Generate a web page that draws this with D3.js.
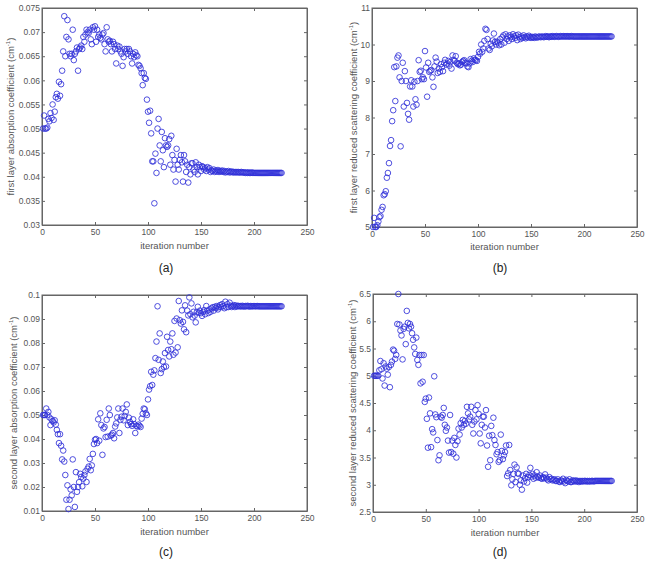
<!DOCTYPE html>
<html>
<head>
<meta charset="utf-8">
<script src="https://cdn.jsdelivr.net/npm/d3@7"></script>
<style>
  body { margin: 0; background: #fff; }
  svg { display: block; font-family: Arial, "Liberation Sans", sans-serif; }
</style>
</head>
<body>
<svg id="chart" width="647" height="562"></svg>
<script>
// iteration numbers shared by the four panels
const iterations = d3.range(1, 227);

const firstAbs = [
  0.0500, 0.0527, 0.0500, 0.0500, 0.0502, 0.0520, 0.0515, 0.0532, 0.0522, 0.0550,
  0.0518, 0.0535, 0.0565, 0.0572, 0.0562, 0.0597, 0.0568, 0.0592, 0.0620, 0.0660,
  0.0733, 0.0650, 0.0690, 0.0725, 0.0685, 0.0655, 0.0650, 0.0655, 0.0705, 0.0642,
  0.0655, 0.0660, 0.0668, 0.0620, 0.0665, 0.0668, 0.0672, 0.0665, 0.0690, 0.0680,
  0.0695, 0.0705, 0.0700, 0.0698, 0.0705, 0.0685, 0.0675, 0.0710, 0.0705, 0.0712,
  0.0680, 0.0705, 0.0690, 0.0695, 0.0688, 0.0685, 0.0695, 0.0698, 0.0675, 0.0660,
  0.0710, 0.0685, 0.0680, 0.0682, 0.0675, 0.0660, 0.0680, 0.0675, 0.0665, 0.0635,
  0.0672, 0.0665, 0.0670, 0.0660, 0.0655, 0.0630, 0.0648, 0.0665, 0.0660, 0.0665,
  0.0655, 0.0665, 0.0660, 0.0650, 0.0635, 0.0655, 0.0648, 0.0658, 0.0652, 0.0650,
  0.0632, 0.0630, 0.0625, 0.0615, 0.0590, 0.0615, 0.0605, 0.0603, 0.0560, 0.0535,
  0.0512, 0.0537, 0.0490, 0.0432, 0.0432, 0.0345, 0.0448, 0.0408, 0.0500, 0.0520,
  0.0465, 0.0432, 0.0493, 0.0455, 0.0420, 0.0480, 0.0465, 0.0462, 0.0465, 0.0478,
  0.0425, 0.0485, 0.0445, 0.0415, 0.0435, 0.0390, 0.0458, 0.0425, 0.0415, 0.0435,
  0.0445, 0.0430, 0.0390, 0.0445, 0.0432, 0.0410, 0.0425, 0.0388, 0.0420, 0.0405,
  0.0428, 0.0428, 0.0415, 0.0410, 0.0430, 0.0420, 0.0405, 0.0425, 0.0420, 0.0412,
  0.0422, 0.0420, 0.0415, 0.0418, 0.0412, 0.0420, 0.0415, 0.0418, 0.0410, 0.0413,
  0.0412, 0.0415, 0.0410, 0.0413, 0.0411, 0.0414, 0.0410, 0.0412, 0.0411, 0.0413,
  0.0410, 0.0412, 0.0409, 0.0411, 0.0410, 0.0412, 0.0409, 0.0410, 0.0411, 0.0409,
  0.0410, 0.0409, 0.0410, 0.0409, 0.0410, 0.0409, 0.0409, 0.0410, 0.0409, 0.0409,
  0.0409, 0.0408, 0.0409, 0.0408, 0.0409, 0.0408, 0.0408, 0.0409, 0.0408, 0.0408,
  0.0408, 0.0408, 0.0408, 0.0408, 0.0408, 0.0408, 0.0408, 0.0408, 0.0408, 0.0408,
  0.0408, 0.0408, 0.0408, 0.0408, 0.0408, 0.0408, 0.0408, 0.0408, 0.0408, 0.0408,
  0.0408, 0.0408, 0.0408, 0.0408, 0.0408, 0.0408
];

const firstScat = [
  5.00, 5.25, 5.00, 5.00, 5.05, 5.15, 5.27, 5.30, 5.47, 5.55,
  5.87, 5.90, 5.98, 6.35, 6.48, 6.75, 7.22, 7.38, 7.90, 8.20,
  9.38, 8.45, 9.40, 9.64, 9.70, 9.10, 7.21, 9.00, 9.50, 8.30,
  9.27, 9.00, 8.40, 8.10, 7.94, 8.85, 9.02, 8.85, 8.30, 8.98,
  8.50, 8.35, 9.00, 9.57, 9.25, 9.28, 9.05, 9.10, 9.05, 9.82,
  9.37, 8.57, 9.50, 9.25, 9.28, 9.30, 9.10, 8.84, 9.40, 9.64,
  9.53, 9.22, 9.34, 9.25, 9.46, 9.38, 9.27, 9.50, 9.58, 9.45,
  9.48, 9.55, 9.42, 9.52, 9.34, 9.70, 9.58, 9.55, 9.68, 9.50,
  9.46, 9.48, 9.43, 9.45, 9.52, 9.55, 9.57, 9.50, 9.48, 9.40,
  9.38, 9.48, 9.60, 9.55, 9.52, 9.62, 9.58, 9.57, 9.55, 9.66,
  9.80, 9.75, 10.00, 9.80, 9.89, 10.10, 10.43, 10.40, 10.15, 9.89,
  9.85, 10.02, 9.95, 10.11, 10.30, 10.07, 10.00, 10.08, 10.05, 9.98,
  10.15, 10.00, 10.20, 10.25, 10.05, 10.28, 10.15, 10.22, 10.10, 10.25,
  10.20, 10.15, 10.28, 10.22, 10.18, 10.25, 10.12, 10.27, 10.20, 10.15,
  10.22, 10.18, 10.25, 10.20, 10.17, 10.22, 10.19, 10.24, 10.20, 10.18,
  10.21, 10.20, 10.18, 10.22, 10.20, 10.19, 10.21, 10.22, 10.20, 10.21,
  10.22, 10.20, 10.21, 10.23, 10.21, 10.22, 10.20, 10.22, 10.21, 10.23,
  10.22, 10.21, 10.22, 10.23, 10.22, 10.21, 10.22, 10.23, 10.22, 10.22,
  10.23, 10.22, 10.22, 10.23, 10.22, 10.22, 10.22, 10.23, 10.22, 10.22,
  10.22, 10.22, 10.22, 10.22, 10.22, 10.22, 10.22, 10.22, 10.22, 10.22,
  10.22, 10.22, 10.22, 10.22, 10.22, 10.22, 10.22, 10.22, 10.22, 10.22,
  10.22, 10.22, 10.22, 10.22, 10.22, 10.22, 10.22, 10.22, 10.22, 10.22,
  10.22, 10.22, 10.22, 10.22, 10.22, 10.22
];

const secondAbs = [
  0.0500, 0.0500, 0.0500, 0.0527, 0.0500, 0.0513, 0.0490, 0.0458, 0.0482, 0.0475,
  0.0469, 0.0478, 0.0460, 0.0438, 0.0420, 0.0383, 0.0420, 0.0372, 0.0315, 0.0352,
  0.0306, 0.0250, 0.0147, 0.0207, 0.0108, 0.0147, 0.0190, 0.0165, 0.0315, 0.0200,
  0.0117, 0.0262, 0.0180, 0.0200, 0.0220, 0.0255, 0.0242, 0.0203, 0.0235, 0.0250,
  0.0265, 0.0221, 0.0276, 0.0285, 0.0317, 0.0270, 0.0290, 0.0338, 0.0379, 0.0397,
  0.0400, 0.0383, 0.0482, 0.0393, 0.0507, 0.0458, 0.0334, 0.0444, 0.0450, 0.0408,
  0.0480, 0.0410, 0.0527, 0.0500, 0.0414, 0.0418, 0.0425, 0.0403, 0.0452, 0.0465,
  0.0490, 0.0527, 0.0425, 0.0480, 0.0493, 0.0527, 0.0478, 0.0496, 0.0513, 0.0544,
  0.0458, 0.0489, 0.0471, 0.0462, 0.0455, 0.0482, 0.0462, 0.0425, 0.0455, 0.0452,
  0.0460, 0.0455, 0.0450, 0.0485, 0.0505, 0.0527, 0.0524, 0.0507, 0.0500, 0.0565,
  0.0606, 0.0620, 0.0680, 0.0625, 0.0668, 0.0686, 0.0737, 0.0806, 0.0953, 0.0730,
  0.0840, 0.0675, 0.0691, 0.0723, 0.0700, 0.0758, 0.0702, 0.0826, 0.0771, 0.0744,
  0.0806, 0.0774, 0.0840, 0.0751, 0.0892, 0.0760, 0.0902, 0.0782, 0.0975, 0.0895,
  0.0881, 0.0936, 0.0888, 0.0857, 0.0957, 0.0845, 0.0935, 0.0915, 0.0990, 0.0920,
  0.0965, 0.0907, 0.0930, 0.0914, 0.0886, 0.0928, 0.0951, 0.0926, 0.0935, 0.0924,
  0.0913, 0.0930, 0.0937, 0.0920, 0.0954, 0.0935, 0.0925, 0.0940, 0.0930, 0.0944,
  0.0949, 0.0935, 0.0951, 0.0945, 0.0954, 0.0940, 0.0949, 0.0958, 0.0950, 0.0962,
  0.0954, 0.0945, 0.0972, 0.0949, 0.0962, 0.0950, 0.0968, 0.0955, 0.0950, 0.0954,
  0.0958, 0.0950, 0.0956, 0.0952, 0.0955, 0.0953, 0.0954, 0.0952, 0.0955, 0.0953,
  0.0952, 0.0954, 0.0953, 0.0955, 0.0953, 0.0952, 0.0954, 0.0953, 0.0953, 0.0954,
  0.0953, 0.0953, 0.0954, 0.0953, 0.0953, 0.0953, 0.0953, 0.0953, 0.0953, 0.0953,
  0.0953, 0.0953, 0.0953, 0.0953, 0.0953, 0.0953, 0.0953, 0.0953, 0.0953, 0.0953,
  0.0953, 0.0953, 0.0953, 0.0953, 0.0953, 0.0953
];

const secondScat = [
  5.00, 5.00, 5.00, 5.00, 5.00, 5.10, 5.27, 5.12, 4.95, 5.23,
  4.82, 5.17, 5.13, 5.02, 5.16, 4.79, 5.20, 5.26, 5.48, 5.46,
  5.31, 5.38, 5.95, 6.50, 5.94, 5.83, 5.74, 5.30, 5.86, 5.90,
  5.58, 6.19, 5.97, 5.87, 5.95, 5.90, 5.78, 5.66, 5.52, 5.40,
  5.70, 5.29, 5.20, 5.38, 4.86, 5.38, 4.89, 5.38, 4.52, 4.58,
  4.21, 3.68, 4.60, 4.31, 3.69, 4.02, 3.96, 4.99, 4.29, 4.24,
  3.82, 3.45, 3.54, 4.25, 4.23, 4.28, 4.41, 4.10, 3.99, 4.05,
  3.81, 3.59, 4.28, 3.60, 3.81, 3.57, 3.86, 3.73, 3.50, 3.80,
  4.03, 3.92, 4.13, 4.05, 4.19, 4.10, 4.17, 4.12, 4.43, 4.31,
  4.20, 4.25, 4.43, 4.10, 3.94, 4.16, 4.37, 4.20, 4.46, 4.30,
  3.94, 3.76, 4.10, 4.25, 4.25, 4.05, 4.37, 3.72, 3.33, 3.90,
  3.45, 4.08, 3.91, 4.23, 3.82, 3.73, 3.56, 3.60, 3.42, 3.45,
  3.92, 3.62, 3.47, 3.54, 3.60, 3.72, 3.16, 3.21, 3.73, 3.27,
  2.99, 3.10, 3.20, 3.37, 3.05, 3.32, 3.21, 3.20, 3.00, 3.08,
  2.91, 3.17, 3.06, 3.12, 3.20, 3.04, 3.14, 3.18, 3.31, 3.15,
  3.20, 3.11, 3.17, 3.13, 3.23, 3.15, 3.13, 3.17, 3.12, 3.11,
  3.14, 3.12, 3.19, 3.13, 3.10, 3.08, 3.14, 3.10, 3.11, 3.08,
  3.09, 3.10, 3.07, 3.07, 3.10, 3.06, 3.05, 3.08, 3.07, 3.11,
  3.06, 3.03, 3.09, 3.07, 3.06, 3.10, 3.05, 3.05, 3.08, 3.07,
  3.06, 3.08, 3.06, 3.07, 3.05, 3.07, 3.06, 3.07, 3.06, 3.07,
  3.07, 3.06, 3.07, 3.06, 3.07, 3.06, 3.07, 3.07, 3.06, 3.07,
  3.07, 3.07, 3.07, 3.07, 3.07, 3.07, 3.07, 3.07, 3.07, 3.07,
  3.07, 3.07, 3.07, 3.07, 3.07, 3.07
];

const xTicks = [0, 50, 100, 150, 200, 250];
const xLabel = "iteration number";

const panels = [
  { values: firstAbs, domain: [0.03, 0.075], ticks: [0.03, 0.035, 0.04, 0.045, 0.05, 0.055, 0.06, 0.065, 0.07, 0.075],
    label: "first layer absorption coefficient (cm", caption: "(a)",
    box: { left: 42, right: 307, top: 8, bottom: 225 }, capX: 166, capY: 272, xLabY: 249, yLabX: 14 },
  { values: firstScat, domain: [5, 11], ticks: [5, 6, 7, 8, 9, 10, 11],
    label: "first layer reduced scattering coefficient (cm", caption: "(b)",
    box: { left: 372, right: 637, top: 8, bottom: 227 }, capX: 500, capY: 272, xLabY: 250, yLabX: 357 },
  { values: secondAbs, domain: [0.01, 0.1], ticks: [0.01, 0.02, 0.03, 0.04, 0.05, 0.06, 0.07, 0.08, 0.09, 0.1],
    label: "second layer absorption coefficient (cm", caption: "(c)",
    box: { left: 42, right: 307, top: 295, bottom: 511 }, capX: 166, capY: 556, xLabY: 535, yLabX: 17 },
  { values: secondScat, domain: [2.5, 6.5], ticks: [2.5, 3, 3.5, 4, 4.5, 5, 5.5, 6, 6.5],
    label: "second layer reduced scattering coefficient (cm", caption: "(d)",
    box: { left: 373, right: 637, top: 294, bottom: 512 }, capX: 500, capY: 556, xLabY: 536, yLabX: 356 }
];

const svg = d3.select("#chart");
const textColor = "#555";
const axisColor = "#666";
const fmt = d => String(+d.toFixed(4));

panels.forEach(p => {
  const b = p.box;
  const x = d3.scaleLinear().domain([0, 250]).range([b.left, b.right]);
  const y = d3.scaleLinear().domain(p.domain).range([b.bottom, b.top]);
  const g = svg.append("g");

  // ticks on all four sides, pointing inward like matlab
  g.append("g").attr("transform", `translate(0,${b.bottom})`)
    .call(d3.axisBottom(x).tickValues(xTicks).tickSizeInner(-3).tickSizeOuter(0).tickPadding(4).tickFormat(fmt));
  g.append("g").attr("transform", `translate(0,${b.top})`)
    .call(d3.axisTop(x).tickValues(xTicks).tickSizeInner(-3).tickSizeOuter(0).tickFormat(""));
  g.append("g").attr("transform", `translate(${b.left},0)`)
    .call(d3.axisLeft(y).tickValues(p.ticks).tickSizeInner(-3).tickSizeOuter(0).tickPadding(2).tickFormat(fmt));
  g.append("g").attr("transform", `translate(${b.right},0)`)
    .call(d3.axisRight(y).tickValues(p.ticks).tickSizeInner(-3).tickSizeOuter(0).tickFormat(""));

  g.selectAll(".domain").attr("stroke", axisColor);
  g.selectAll(".tick line").attr("stroke", axisColor);
  g.selectAll(".tick text").attr("fill", textColor).style("font-size", "8.5px");

  g.append("rect")
    .attr("x", b.left).attr("y", b.top)
    .attr("width", b.right - b.left).attr("height", b.bottom - b.top)
    .attr("fill", "none").attr("stroke", axisColor).attr("stroke-width", 1);

  g.append("g").selectAll("circle")
    .data(p.values)
    .join("circle")
    .attr("cx", (d, i) => x(iterations[i]))
    .attr("cy", d => y(d))
    .attr("r", 2.8)
    .attr("fill", "none")
    .attr("stroke", "#3030d8")
    .attr("stroke-width", 0.85);

  g.append("text")
    .attr("x", (b.left + b.right) / 2).attr("y", p.xLabY)
    .attr("text-anchor", "middle").attr("fill", textColor)
    .style("font-size", "9.5px")
    .text(xLabel);

  const yl = g.append("text")
    .attr("transform", `translate(${p.yLabX},${(b.top + b.bottom) / 2}) rotate(-90)`)
    .attr("text-anchor", "middle").attr("fill", textColor)
    .style("font-size", "9.5px");
  yl.append("tspan").text(p.label);
  yl.append("tspan").attr("dy", -4).style("font-size", "6px").text("-1");
  yl.append("tspan").attr("dy", 4).text(")");

  g.append("text")
    .attr("x", p.capX).attr("y", p.capY)
    .attr("text-anchor", "middle").attr("fill", "#222")
    .style("font-size", "12px")
    .text(p.caption);
});
</script>
</body>
</html>
